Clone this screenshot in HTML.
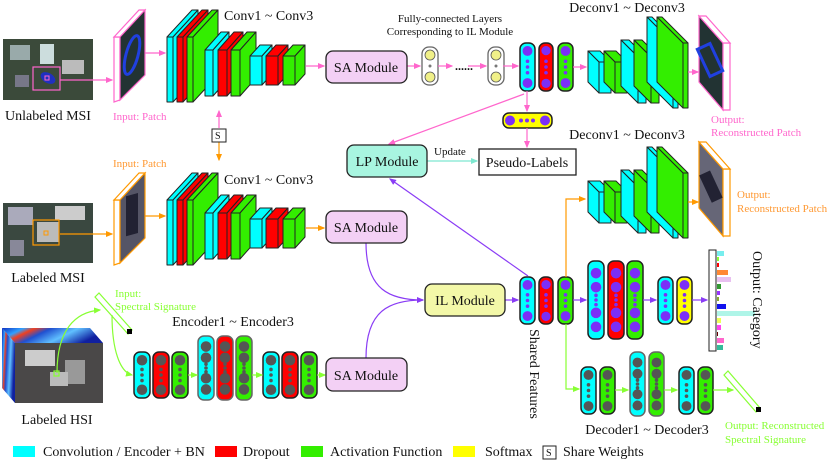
<!DOCTYPE html>
<html><head><meta charset="utf-8"><style>
html,body{margin:0;padding:0;background:#fff;}
svg{display:block;}
text{font-family:"Liberation Serif",serif;}
</style></head><body>
<svg id="s" width="830" height="460" viewBox="0 0 830 460" xmlns="http://www.w3.org/2000/svg">
<defs>
<marker id="ap" markerWidth="6" markerHeight="6" refX="5" refY="3" orient="auto"><path d="M0,0.5 L6,3 L0,5.5z" fill="#f6c"/></marker>
<marker id="ao" markerWidth="6" markerHeight="6" refX="5" refY="3" orient="auto"><path d="M0,0.5 L6,3 L0,5.5z" fill="#f90"/></marker>
<marker id="au" markerWidth="6" markerHeight="6" refX="5" refY="3" orient="auto"><path d="M0,0.5 L6,3 L0,5.5z" fill="#8a3cf5"/></marker>
<marker id="ag" markerWidth="6" markerHeight="6" refX="5" refY="3" orient="auto"><path d="M0,0.5 L6,3 L0,5.5z" fill="#8f3"/></marker>
<marker id="at" markerWidth="6" markerHeight="6" refX="5" refY="3" orient="auto"><path d="M0,0.5 L6,3 L0,5.5z" fill="#7ee8d0"/></marker>
<linearGradient id="hs" x1="0" y1="0" x2="1" y2="0.3">
<stop offset="0" stop-color="#1030c0"/><stop offset="0.2" stop-color="#30a0ff"/><stop offset="0.3" stop-color="#f04020"/><stop offset="0.45" stop-color="#2050d0"/><stop offset="0.7" stop-color="#60c0ff"/><stop offset="1" stop-color="#1020a0"/>
</linearGradient>
</defs>
<g id="g"></g>

<!-- images -->
<rect x="3" y="39" width="90" height="61" fill="#3b4a3a"/>
<rect x="10" y="45" width="20" height="15" fill="#9aa"/><rect x="40" y="44" width="14" height="20" fill="#cdd"/><rect x="62" y="60" width="22" height="14" fill="#bbb"/><rect x="15" y="75" width="14" height="12" fill="#778"/>
<ellipse cx="48" cy="78" rx="8" ry="5" fill="#2030c0" transform="rotate(30 48 78)"/>
<rect x="33" y="67" width="27" height="23" fill="none" stroke="#f6c" stroke-width="1.2"/><rect x="45" y="76" width="4" height="4" fill="none" stroke="#f6c"/>

<rect x="3" y="203" width="90" height="60" fill="#3a4840"/>
<rect x="8" y="207" width="25" height="18" fill="#aab"/><rect x="55" y="206" width="30" height="14" fill="#ccc"/><rect x="10" y="240" width="14" height="16" fill="#889"/>
<rect x="37" y="222" width="22" height="20" fill="#bbb"/>
<rect x="33" y="220" width="26" height="25" fill="none" stroke="#f90" stroke-width="1.2"/><rect x="44" y="231" width="4" height="4" fill="none" stroke="#f90"/>

<polygon points="2,328 90,328 103,343 15,343" fill="url(#hs)"/>
<polygon points="2,328 15,343 15,403 2,388" fill="url(#hs)"/>
<rect x="15" y="343" width="88" height="60" fill="#4a4848"/>
<rect x="25" y="350" width="30" height="16" fill="#ccc"/><rect x="65" y="360" width="20" height="24" fill="#999"/><rect x="50" y="372" width="18" height="14" fill="#bbb"/>
<rect x="54" y="371" width="5" height="5" fill="none" stroke="#8f3" stroke-width="1.2"/>

<!-- patches -->
<polygon points="114,37 120,37 120,100 114,102" fill="#fff" stroke="#f6c" stroke-width="1.2"/>
<polygon points="114,37 139,10 145,10 120,37" fill="#fff" stroke="#f6c" stroke-width="1.2"/>
<polygon points="120,37 145,10 145,75 120,100" fill="#233" stroke="#f6c" stroke-width="1.2"/>
<ellipse cx="132" cy="55" rx="6" ry="20" fill="none" stroke="#2040e0" stroke-width="3" transform="rotate(15 132 55)"/>
<polygon points="114,200 120,200 120,263 114,265" fill="#fff" stroke="#f90" stroke-width="1.2"/>
<polygon points="114,200 139,173 145,173 120,200" fill="#fff" stroke="#f90" stroke-width="1.2"/>
<polygon points="120,200 145,173 145,238 120,263" fill="#556" stroke="#f90" stroke-width="1.2"/>
<rect x="126" y="195" width="12" height="40" fill="#223" transform="skewY(-15) translate(0,35)"/>

<polygon points="699,16 723,43 723,110 699,82" fill="#233" stroke="#f6c" stroke-width="1.2"/>
<polygon points="723,43 730,43 730,110 723,110" fill="#fff" stroke="#f6c" stroke-width="1.2"/>
<polygon points="699,16 706,16 730,43 723,43" fill="#fff" stroke="#f6c" stroke-width="1.2"/>
<rect x="703" y="45" width="14" height="30" fill="none" stroke="#2040e0" stroke-width="3" transform="rotate(-25 710 60)"/>
<polygon points="699,142 723,169 723,236 699,208" fill="#667" stroke="#f90" stroke-width="1.2"/>
<polygon points="723,169 730,169 730,236 723,236" fill="#fff" stroke="#f90" stroke-width="1.2"/>
<polygon points="699,142 706,142 730,169 723,169" fill="#fff" stroke="#f90" stroke-width="1.2"/>
<rect x="705" y="172" width="12" height="30" fill="#223" transform="rotate(-25 710 187)"/>

<!-- spectral bars -->
<g stroke="#8f3" stroke-width="1.2" fill="#fff">
<polygon points="95,297 99,293 132,330 128,334"/>
<polygon points="724,375 728,371 760,408 756,412"/>
</g>
<rect x="127" y="329" width="5" height="5" fill="#000"/><rect x="756" y="407" width="5" height="5" fill="#000"/>

<!-- connectors -->
<g fill="none" stroke-width="1.2">
<path d="M60,80 L112,80" stroke="#f6c" marker-end="url(#ap)"/>
<path d="M145,53 L165,53" stroke="#f6c" marker-end="url(#ap)"/>
<path d="M306,66 L324,66" stroke="#f6c" marker-end="url(#ap)"/>
<path d="M407,66 L420,66" stroke="#f6c" marker-end="url(#ap)"/>
<path d="M438,66 L452,66" stroke="#f6c" marker-end="url(#ap)"/>
<path d="M468,66 L486,66" stroke="#f6c" marker-end="url(#ap)"/>
<path d="M503,66 L518,66" stroke="#f6c" marker-end="url(#ap)"/>
<path d="M573,67 L586,67" stroke="#f6c" marker-end="url(#ap)"/>
<path d="M688,72 L698,72" stroke="#f6c" marker-end="url(#ap)"/>
<path d="M527,91 L527,111" stroke="#f6c" marker-end="url(#ap)"/>
<path d="M527,128 L527,147" stroke="#f6c" marker-end="url(#ap)"/>
<path d="M524,94 L389,144" stroke="#f6c" marker-end="url(#ap)"/>
<path d="M219,128 L219,111" stroke="#f6c" marker-end="url(#ap)"/>
<path d="M219,142 L219,160" stroke="#f90" marker-end="url(#ao)"/>
<path d="M60,234 L112,234" stroke="#f90" marker-end="url(#ao)"/>
<path d="M145,216 L165,216" stroke="#f90" marker-end="url(#ao)"/>
<path d="M306,228 L324,228" stroke="#f90" marker-end="url(#ao)"/>
<path d="M566,277 L566,199 L585,199" stroke="#f90" marker-end="url(#ao)"/>
<path d="M688,202 L698,202" stroke="#f90" marker-end="url(#ao)"/>
<path d="M427,161 L477,161" stroke="#7ee8d0" marker-end="url(#at)"/>
<path d="M528,276 L390,179" stroke="#8a3cf5" marker-end="url(#au)"/>
<path d="M366,243 C366,290 390,300 423,300" stroke="#8a3cf5" marker-end="url(#au)"/>
<path d="M366,358 C366,310 390,300 423,300" stroke="#8a3cf5"/>
<path d="M505,300 L518,300" stroke="#8a3cf5" marker-end="url(#au)"/>
<path d="M573,300 L586,300" stroke="#8a3cf5" marker-end="url(#au)"/>
<path d="M643,300 L656,300" stroke="#8a3cf5" marker-end="url(#au)"/>
<path d="M692,300 L707,300" stroke="#8a3cf5" marker-end="url(#au)"/>
<path d="M566,324 L566,389 L579,389" stroke="#8f3" marker-end="url(#ag)"/>
<path d="M615,390 L628,390" stroke="#8f3" marker-end="url(#ag)"/>
<path d="M664,390 L677,390" stroke="#8f3" marker-end="url(#ag)"/>
<path d="M713,390 L733,390" stroke="#8f3" marker-end="url(#ag)"/>
<path d="M57,373 C57,330 75,312 100,310" stroke="#8f3" marker-end="url(#ag)"/>
<path d="M112,315 C112,350 120,372 132,375" stroke="#8f3" marker-end="url(#ag)"/>
<path d="M188,375 L197,375" stroke="#8f3" marker-end="url(#ag)"/>
<path d="M252,375 L262,375" stroke="#8f3" marker-end="url(#ag)"/>
<path d="M317,375 L325,375" stroke="#8f3" marker-end="url(#ag)"/>
</g>

<!-- modules -->
<g stroke="#222" stroke-width="1.3">
<rect x="326" y="51" width="81" height="32" rx="7" fill="#f3d0f5"/>
<rect x="326" y="211" width="81" height="32" rx="7" fill="#f3d0f5"/>
<rect x="326" y="358" width="81" height="33" rx="7" fill="#f3d0f5"/>
<rect x="347" y="145" width="80" height="32" rx="7" fill="#a8f5e0"/>
<rect x="425" y="284" width="80" height="32" rx="7" fill="#f3f8a8"/>
<rect x="479" y="149" width="97" height="26" fill="#fff"/>
<rect x="212" y="129" width="14" height="13" fill="#fff" stroke-width="1"/>
<rect x="543" y="446" width="13" height="13" fill="#fff" stroke-width="1"/>
<rect x="709" y="250" width="7" height="101" fill="#fff" stroke-width="1"/>
</g>
<g>
<rect x="717" y="251" width="7" height="5" fill="#7ee"/><rect x="717" y="257" width="2" height="4" fill="#8f3"/><rect x="717" y="263" width="2" height="4" fill="#f00"/>
<rect x="717" y="270" width="11" height="5" fill="#f83"/><rect x="717" y="277" width="14" height="5" fill="#e8c0f0"/><rect x="717" y="284" width="4" height="5" fill="#393"/>
<rect x="717" y="291" width="3" height="4" fill="#93f"/><rect x="717" y="297" width="2" height="4" fill="#8a3"/><rect x="717" y="304" width="9" height="5" fill="#11e"/>
<rect x="717" y="311" width="38" height="5" fill="#aff5e8"/><rect x="717" y="318" width="4" height="5" fill="#ef5"/><rect x="717" y="325" width="4" height="5" fill="#f4e"/>
<rect x="717" y="332" width="1" height="4" fill="#600"/><rect x="717" y="338" width="7" height="5" fill="#f6c"/><rect x="717" y="345" width="6" height="5" fill="#3b9"/>
</g>

<!-- legend -->
<rect x="13" y="446" width="22" height="11" fill="#0ff"/>
<rect x="215" y="446" width="22" height="11" fill="#f00"/>
<rect x="301" y="446" width="22" height="11" fill="#3e0"/>
<rect x="453" y="446" width="22" height="11" fill="#ff0"/>

<!-- text -->
<g font-size="14" fill="#111">
<text x="48" y="120" text-anchor="middle">Unlabeled MSI</text>
<text x="48" y="282" text-anchor="middle">Labeled MSI</text>
<text x="57" y="424" text-anchor="middle">Labeled HSI</text>
<text x="224" y="20">Conv1 ~ Conv3</text>
<text x="224" y="184">Conv1 ~ Conv3</text>
<text x="627" y="12" text-anchor="middle">Deconv1 ~ Deconv3</text>
<text x="627" y="139" text-anchor="middle">Deconv1 ~ Deconv3</text>
<text x="233" y="326" text-anchor="middle">Encoder1 ~ Encoder3</text>
<text x="647" y="434" text-anchor="middle">Decoder1 ~ Decoder3</text>
<text x="366" y="72" text-anchor="middle">SA Module</text>
<text x="366" y="232" text-anchor="middle">SA Module</text>
<text x="366" y="380" text-anchor="middle">SA Module</text>
<text x="387" y="166" text-anchor="middle">LP Module</text>
<text x="465" y="305" text-anchor="middle">IL Module</text>
<text x="527" y="167" text-anchor="middle">Pseudo-Labels</text>
<text x="535" y="329" transform="rotate(90 535 329)" text-anchor="start" dy="5">Shared Features</text>
<text x="758" y="251" transform="rotate(90 758 251)" dy="5">Output: Category</text>
</g>
<g font-size="11" fill="#111">
<text x="450" y="22" text-anchor="middle">Fully-connected Layers</text>
<text x="450" y="35" text-anchor="middle">Corresponding to IL Module</text>
<text x="434" y="155">Update</text>
<text x="215" y="139" font-size="10">S</text>
<text x="455" y="70" font-size="12" font-weight="bold">......</text>
</g>
<g font-size="11">
<text x="113" y="120" fill="#f6c">Input: Patch</text>
<text x="113" y="167" fill="#f93">Input: Patch</text>
<text x="711" y="123" fill="#f6c">Output:</text>
<text x="711" y="136" fill="#f6c">Reconstructed Patch</text>
<text x="737" y="198" fill="#f93">Output:</text>
<text x="737" y="212" fill="#f93">Reconstructed Patch</text>
<text x="115" y="297" fill="#8f3">Input:</text>
<text x="115" y="310" fill="#8f3">Spectral Signature</text>
<text x="725" y="429" fill="#8f3">Output: Reconstructed</text>
<text x="725" y="443" fill="#8f3">Spectral Signature</text>
</g>
<g font-size="14" fill="#111">
<text x="43" y="456">Convolution / Encoder + BN</text>
<text x="243" y="456">Dropout</text>
<text x="330" y="456">Activation Function</text>
<text x="485" y="456">Softmax</text>
<text x="546" y="456" font-size="10">S</text>
<text x="563" y="456">Share Weights</text>
</g>
</svg>
<script>
var g=document.getElementById('g'),NS='http://www.w3.org/2000/svg';
var C={c:'#0ff',r:'#f00',g:'#3e0',y:'#ff0',w:'#fff'};
function el(t,a){var e=document.createElementNS(NS,t);for(var k in a)e.setAttribute(k,a[k]);g.appendChild(e);return e;}
function poly(p,f){el('polygon',{points:p.join(' '),fill:f,stroke:'#222','stroke-width':1,'stroke-linejoin':'round'});}
function box(x,y,w,h,dx,dy,col){var f=C[col];
poly([x+','+y,(x+dx)+','+(y-dy),(x+w+dx)+','+(y-dy),(x+w)+','+y],f);
poly([(x+w)+','+y,(x+w+dx)+','+(y-dy),(x+w+dx)+','+(y+h-dy),(x+w)+','+(y+h)],f);
poly([x+','+y,(x+w)+','+y,(x+w)+','+(y+h),x+','+(y+h)],f);}
function dbox(x,y,w,h,d,col){var f=C[col];
poly([x+','+y,(x-d)+','+(y-d),(x+w-d)+','+(y-d),(x+w)+','+y],f);
poly([x+','+y,(x-d)+','+(y-d),(x-d)+','+(y+h-d),x+','+(y+h)],f);
poly([x+','+y,(x+w)+','+y,(x+w)+','+(y+h),x+','+(y+h)],f);}
function conv(o){
box(167,37+o,6,65,25,27,'c');box(177,37+o,6,65,25,27,'r');box(187,37+o,6,65,25,27,'g');
box(205,50+o,8,46,16,18,'c');box(218,50+o,9,46,16,18,'r');box(231,50+o,9,46,16,18,'g');
box(250,56+o,12,29,10,11,'c');box(266,56+o,12,29,10,11,'r');box(283,56+o,12,29,10,11,'g');}
conv(0);conv(163);
function deconv(o){
dbox(599,62+o,12,31,11,'c');dbox(615,62+o,12,31,11,'g');
dbox(638,57+o,8,46,17,'c');dbox(651,57+o,8,46,17,'g');
dbox(673,43+o,5,65,26,'c');dbox(683,43+o,5,65,26,'g');}
deconv(0);deconv(130);
function cap(x,y,w,h,col,cc,big,bw){
el('rect',{x:x,y:y,width:w,height:h,rx:6,fill:C[col],stroke:bw||'#222','stroke-width':1.5});
var cx=x+w/2,r=w*0.33,ys=[];
if(big){var s=(h-8)/6;ys=[y+4+s*0.7,y+4+s*1.9,y+h-4-s*1.9,y+h-4-s*0.7];}
else ys=[y+r+3,y+h-r-3];
ys.forEach(function(v){el('circle',{cx:cx,cy:v,r:r,fill:cc});});
var m=y+h/2,sp=big?(h*0.06):(h*0.12);
[-sp,0,sp].forEach(function(d){el('circle',{cx:cx,cy:m+d,r:1.8,fill:cc});});}
var P='#7b2ff7',G='#555';
cap(520,43,15,48,'c',P);cap(539,43,14,48,'r',P);cap(558,43,15,48,'g',P);
cap(520,277,15,47,'c',P);cap(539,277,14,47,'r',P);cap(558,277,15,47,'g',P);
cap(588,261,16,78,'c',P,1);cap(608,261,16,78,'r',P,1);cap(627,261,16,78,'g',P,1);
cap(658,277,15,47,'c',P);cap(677,277,15,47,'y',P);
cap(134,352,16,46,'c',G);cap(153,352,16,46,'r',G);cap(172,352,16,46,'g',G);
cap(198,336,16,64,'c',G,1,'#666');cap(217,336,16,64,'r',G,1,'#666');cap(236,336,16,64,'g',G,1,'#666');
cap(263,352,16,46,'c',G);cap(282,352,16,46,'r',G);cap(301,352,16,46,'g',G);
cap(581,367,15,47,'c',G);cap(600,367,15,47,'g',G);
cap(630,352,15,64,'c',G,1,'#666');cap(649,352,15,64,'g',G,1,'#666');
cap(679,367,15,47,'c',G);cap(698,367,15,47,'g',G);
// FC white capsules
[422,488].forEach(function(x){el('rect',{x:x,y:47,width:16,height:38,rx:7,fill:'#fff',stroke:'#666','stroke-width':1.3});
el('circle',{cx:x+8,cy:55,r:5,fill:'#f0f088',stroke:'#555','stroke-width':0.8});el('circle',{cx:x+8,cy:77,r:5,fill:'#f0f088',stroke:'#555','stroke-width':0.8});el('circle',{cx:x+8,cy:66,r:1.5,fill:'#777'});});
// softmax horizontal
el('rect',{x:503,y:113,width:49,height:15,rx:6,fill:'#ff0',stroke:'#222','stroke-width':1.5});
[510,545].forEach(function(x){el('circle',{cx:x,cy:120.5,r:5,fill:P});});
[521,527,533].forEach(function(x){el('circle',{cx:x,cy:120.5,r:2,fill:P});});
</script>
</body></html>
